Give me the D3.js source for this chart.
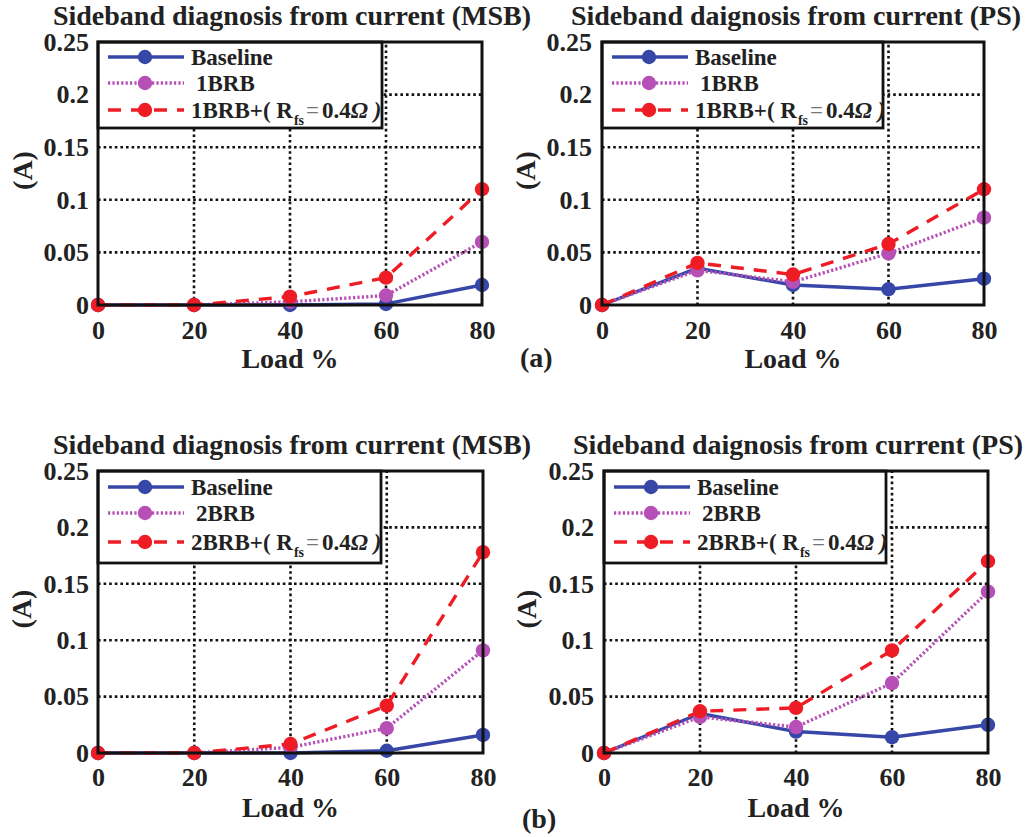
<!DOCTYPE html>
<html>
<head>
<meta charset="utf-8">
<script src="https://cdn.jsdelivr.net/npm/d3@7"></script>
<style>
  html, body { margin: 0; padding: 0; background: #fff; }
  svg { display: block; }
</style>
</head>
<body>
<svg id="chart" width="1035" height="837"></svg>
<script>
// ---------- data ----------
const loads = [0, 20, 40, 60, 80];
const xTickLabels = ["0", "20", "40", "60", "80"];
const yTicks = [0, 0.05, 0.1, 0.15, 0.2, 0.25];
const yTickLabels = ["0", "0.05", "0.1", "0.15", "0.2", "0.25"];

const titleMSB = "Sideband diagnosis from current (MSB)";
const titlePS = "Sideband daignosis from current (PS)";
const xLabel = "Load %";
const yLabel = "(A)";

const seriesNames1 = ["Baseline", "1BRB", "1BRB+("];
const seriesNames2 = ["Baseline", "2BRB", "2BRB+("];

// (a) one broken rotor bar
const msb1Baseline = [0, 0, 0, 0.001, 0.019];
const msb1Fault    = [0, 0, 0.003, 0.009, 0.060];
const msb1FaultR   = [0, 0, 0.008, 0.026, 0.110];
const ps1Baseline  = [0, 0.035, 0.019, 0.015, 0.025];
const ps1Fault     = [0, 0.033, 0.022, 0.049, 0.083];
const ps1FaultR    = [0, 0.040, 0.029, 0.058, 0.110];
// (b) two broken rotor bars
const msb2Baseline = [0, 0, 0, 0.002, 0.016];
const msb2Fault    = [0, 0, 0.005, 0.022, 0.091];
const msb2FaultR   = [0, 0, 0.008, 0.042, 0.178];
const ps2Baseline  = [0, 0.035, 0.019, 0.014, 0.025];
const ps2Fault     = [0, 0.032, 0.023, 0.062, 0.143];
const ps2FaultR    = [0, 0.037, 0.040, 0.091, 0.170];

// ---------- styles ----------
const FONT = "'Liberation Serif', 'Times New Roman', serif";
const INK = "#222";
const styles = [
  { color: "#3747a8", dash: null,      width: 3.4 },
  { color: "#b650b6", dash: "2.2,2.2", width: 3.4 },
  { color: "#ee1d25", dash: "13,10",   width: 3.4 }
];

const svg = d3.select("#chart");

function styleText(sel, size) {
  return sel.style("font-family", FONT).style("font-weight", "bold")
    .style("font-size", size + "px").style("fill", INK);
}

function drawPanel(cfg) {
  const g = svg.append("g");
  const x = d3.scaleLinear().domain([0, 80]).range([cfg.left, cfg.right]);
  const y = d3.scaleLinear().domain([0, 0.25]).range([cfg.bottom, cfg.top]);

  // grid
  const grid = g.append("g");
  grid.selectAll("line.gx").data(loads.slice(1, 4)).enter().append("line")
    .attr("x1", d => x(d)).attr("x2", d => x(d))
    .attr("y1", cfg.bottom).attr("y2", cfg.top)
    .attr("stroke", "#111").attr("stroke-width", 2.6).attr("stroke-dasharray", "2.6,3");
  grid.selectAll("line.gy").data(yTicks.slice(1, 5)).enter().append("line")
    .attr("y1", d => y(d)).attr("y2", d => y(d))
    .attr("x1", cfg.left).attr("x2", cfg.right)
    .attr("stroke", "#111").attr("stroke-width", 2.6).attr("stroke-dasharray", "2.6,3");

  // axes
  const xAxis = d3.axisBottom(x).tickValues(loads).tickFormat((d, i) => xTickLabels[i])
    .tickSize(0).tickPadding(cfg.xPad);
  const gx = g.append("g").attr("transform", `translate(0,${cfg.bottom})`).call(xAxis);
  gx.select(".domain").remove();
  styleText(gx.selectAll("text"), 26);

  const yAxis = d3.axisLeft(y).tickValues(yTicks).tickFormat((d, i) => yTickLabels[i])
    .tickSize(0).tickPadding(cfg.yPad);
  const gy = g.append("g").attr("transform", `translate(${cfg.left},0)`).call(yAxis);
  gy.select(".domain").remove();
  styleText(gy.selectAll("text"), 26);

  // series
  const line = d3.line().x((d, i) => x(loads[i])).y(d => y(d));
  cfg.series.forEach((vals, si) => {
    const st = styles[si];
    g.append("path").datum(vals).attr("d", line)
      .attr("fill", "none").attr("stroke", st.color).attr("stroke-width", st.width)
      .attr("stroke-dasharray", st.dash).attr("stroke-linejoin", "round");
    g.selectAll(null).data(vals).enter().append("circle")
      .attr("cx", (d, i) => x(loads[i])).attr("cy", d => y(d)).attr("r", 7.2)
      .attr("fill", st.color);
  });

  // legend
  const lg = g.append("g").attr("transform", `translate(${cfg.left},${cfg.top})`);
  lg.append("rect").attr("x", 0).attr("y", 0).attr("width", cfg.legW).attr("height", cfg.legH)
    .attr("fill", "#fff").attr("stroke", "#111").attr("stroke-width", 2.8);
  cfg.legRows.forEach((ry, si) => {
    const st = styles[si];
    lg.append("line").attr("x1", 10).attr("x2", 86).attr("y1", ry).attr("y2", ry)
      .attr("stroke", st.color).attr("stroke-width", st.width)
      .attr("stroke-dasharray", st.dash);
    lg.append("circle").attr("cx", 47).attr("cy", ry).attr("r", 7.2).attr("fill", st.color);
    const t = styleText(lg.append("text"), 23).attr("x", si === 1 ? 98 : 93).attr("y", ry).attr("dy", "0.35em");
    if (si < 2) {
      t.text(cfg.names[si]);
    } else {
      t.append("tspan").text(cfg.names[2] + " R");
      t.append("tspan").style("font-size", "14px").attr("dy", 7).attr("dx", 1).text("fs");
      t.append("tspan").attr("dy", -7).attr("dx", 2).style("font-weight", "normal").style("fill", "#777").text("=");
      t.append("tspan").attr("dx", 3).text("0.4");
      t.append("tspan").style("font-style", "italic").text("Ω )");
    }
  });

  // box
  g.append("rect").attr("x", cfg.left).attr("y", cfg.top)
    .attr("width", cfg.right - cfg.left).attr("height", cfg.bottom - cfg.top)
    .attr("fill", "none").attr("stroke", "#111").attr("stroke-width", 3);

  // title & labels
  styleText(g.append("text"), 28).attr("x", cfg.titleX).attr("y", cfg.titleY)
    .attr("text-anchor", "middle").text(cfg.title);
  styleText(g.append("text"), 28).attr("x", (cfg.left + cfg.right) / 2).attr("y", cfg.xLabY)
    .attr("text-anchor", "middle").text(xLabel);
  styleText(g.append("text"), 28)
    .attr("transform", `translate(${cfg.yLabX},${(cfg.top + cfg.bottom) / 2 - 3}) rotate(-90)`)
    .attr("text-anchor", "middle").attr("dy", "0.35em").text(yLabel);
}

drawPanel({ left: 98, right: 482, top: 42, bottom: 305, xPad: 16, yPad: 9,
  series: [msb1Baseline, msb1Fault, msb1FaultR], names: seriesNames1,
  legW: 284, legH: 86, legRows: [15, 41, 68],
  title: titleMSB, titleX: 292, titleY: 25, xLabY: 368, yLabX: 22 });
drawPanel({ left: 602, right: 984, top: 42, bottom: 305, xPad: 16, yPad: 10,
  series: [ps1Baseline, ps1Fault, ps1FaultR], names: seriesNames1,
  legW: 281, legH: 86, legRows: [15, 41, 68],
  title: titlePS, titleX: 796, titleY: 25, xLabY: 368, yLabX: 525 });
drawPanel({ left: 98, right: 483, top: 471, bottom: 753, xPad: 15, yPad: 9,
  series: [msb2Baseline, msb2Fault, msb2FaultR], names: seriesNames2,
  legW: 283, legH: 92, legRows: [16, 42, 71],
  title: titleMSB, titleX: 292, titleY: 454, xLabY: 817, yLabX: 21 });
drawPanel({ left: 604, right: 988, top: 471, bottom: 753, xPad: 15, yPad: 10,
  series: [ps2Baseline, ps2Fault, ps2FaultR], names: seriesNames2,
  legW: 282, legH: 92, legRows: [16, 42, 71],
  title: titlePS, titleX: 798, titleY: 454, xLabY: 817, yLabX: 526 });

styleText(svg.append("text"), 28).attr("x", 520).attr("y", 367).text("(a)");
styleText(svg.append("text"), 28).attr("x", 522).attr("y", 828).text("(b)");
</script>
</body>
</html>
